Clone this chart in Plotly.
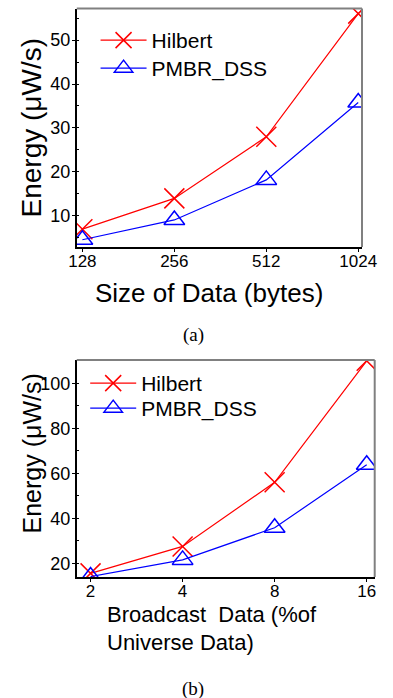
import plotly.graph_objects as go

# ---- data (a) ----
sizes = [128, 256, 512, 1024]
size_labels = ["128", "256", "512", "1024"]
hilbert_a = [7, 14, 28, 56]
pmbr_a = [4.6, 9.1, 18.2, 35.8]

# ---- data (b) ----
broadcast = [2, 4, 8, 16]
broadcast_labels = ["2", "4", "8", "16"]
hilbert_b = [15.5, 27.5, 56, 110]
pmbr_b = [14.1, 21.5, 35.8, 63.8]

W, H = 393, 698
RED = "#ff0000"
BLUE = "#0000ff"
FONT = "Liberation Sans, Arial, sans-serif"


def px_x(p):
    return p / W


def px_y(p):
    return 1 - p / H


fig = go.Figure()

for xs, ys, name, color, sym, size, xa, ya, leg in [
    (sizes, hilbert_a, "Hilbert", RED, "x-thin-open", 20, "x", "y", "legend"),
    (sizes, pmbr_a, "PMBR_DSS", BLUE, "triangle-up-open", 18, "x", "y", "legend2"),
    (broadcast, hilbert_b, "Hilbert", RED, "x-thin-open", 20, "x2", "y2", "legend3"),
    (broadcast, pmbr_b, "PMBR_DSS", BLUE, "triangle-up-open", 18, "x2", "y2", "legend4"),
]:
    fig.add_trace(go.Scatter(
        x=xs, y=ys, name=name, mode="lines+markers",
        line=dict(color=color, width=1.2),
        marker=dict(symbol=sym, size=size, color=color, line=dict(color=color, width=1.5)),
        xaxis=xa, yaxis=ya, legend=leg, showlegend=True,
    ))

axis_common = dict(
    showgrid=False, zeroline=False, showline=True, linecolor="black", linewidth=1.5,
    ticks="outside", ticklen=3, tickcolor="black", tickwidth=1,
)
xtickfont = dict(family=FONT, size=17, color="black")
ytickfont = dict(family=FONT, size=18, color="black")


def legend_at(xp, yp):
    return dict(
        x=px_x(xp), y=px_y(yp), xanchor="left", yanchor="top",
        bgcolor="rgba(0,0,0,0)", font=dict(family=FONT, size=21, color="black"),
        itemwidth=46,
    )


fig.update_layout(
    width=W, height=H,
    margin=dict(l=0, r=0, t=0, b=0),
    paper_bgcolor="white", plot_bgcolor="white",
    xaxis=dict(
        domain=[px_x(73), px_x(376)], anchor="y", type="log",
        range=[2.0887, 3.0226], tickvals=sizes, ticktext=size_labels,
        tickfont=xtickfont, ticklabelstandoff=-5, **axis_common,
    ),
    yaxis=dict(
        domain=[px_y(247), px_y(8.5)], anchor="x",
        range=[2.95, 57.16], tickvals=[10, 20, 30, 40, 50],
        minor=dict(ticks="inside", ticklen=3, dtick=5, tickcolor="black"),
        tickfont=ytickfont, ticklabelstandoff=-2, **axis_common,
    ),
    xaxis2=dict(
        domain=[px_x(73), px_x(389.5)], anchor="y2", type="log",
        range=[0.2558, 1.2303], tickvals=broadcast, ticktext=broadcast_labels,
        tickfont=xtickfont, ticklabelstandoff=-5, **axis_common,
    ),
    yaxis2=dict(
        domain=[px_y(577), px_y(360)], anchor="x2",
        range=[13.9, 110.37], tickvals=[20, 40, 60, 80, 100],
        minor=dict(ticks="inside", ticklen=3, dtick=10, tickcolor="black"),
        tickfont=ytickfont, ticklabelstandoff=-2, **axis_common,
    ),
    legend=legend_at(93, 20),
    legend2=legend_at(93, 48),
    legend3=legend_at(82, 363),
    legend4=legend_at(82, 388),
)

# gray top / right frame lines
for xr, yr in [("x domain", "y domain"), ("x2 domain", "y2 domain")]:
    fig.add_shape(type="line", xref=xr, yref=yr, x0=0, x1=1, y0=1, y1=1,
                  line=dict(color="#808080", width=2))
    fig.add_shape(type="line", xref=xr, yref=yr, x0=1, x1=1, y0=0, y1=1,
                  line=dict(color="#808080", width=2))

ann = []
ann.append(dict(text="Energy (μW/s)", x=px_x(26), y=px_y(128), textangle=-90,
                font=dict(family=FONT, size=28, color="black")))
ann.append(dict(text="Size of Data (bytes)", x=px_x(213), y=px_y(293),
                font=dict(family=FONT, size=26, color="black")))
ann.append(dict(text="(a)", x=px_x(197), y=px_y(335),
                font=dict(family="Liberation Serif, serif", size=19, color="black")))
ann.append(dict(text="Energy (μW/s)", x=px_x(26), y=px_y(453), textangle=-90,
                font=dict(family=FONT, size=25, color="black")))
ann.append(dict(text="Broadcast&nbsp; Data (%of", x=px_x(103), y=px_y(614), xanchor="left",
                font=dict(family=FONT, size=22, color="black")))
ann.append(dict(text="Universe Data)", x=px_x(103), y=px_y(642), xanchor="left",
                font=dict(family=FONT, size=22, color="black")))
ann.append(dict(text="(b)", x=px_x(197), y=px_y(689),
                font=dict(family="Liberation Serif, serif", size=19, color="black")))
for a in ann:
    a.setdefault("xanchor", "center")
    fig.add_annotation(xref="paper", yref="paper", yanchor="middle", showarrow=False, **a)

fig.write_html("out.html", config={"displayModeBar": False},
               post_script="document.body.style.margin='0px';")
